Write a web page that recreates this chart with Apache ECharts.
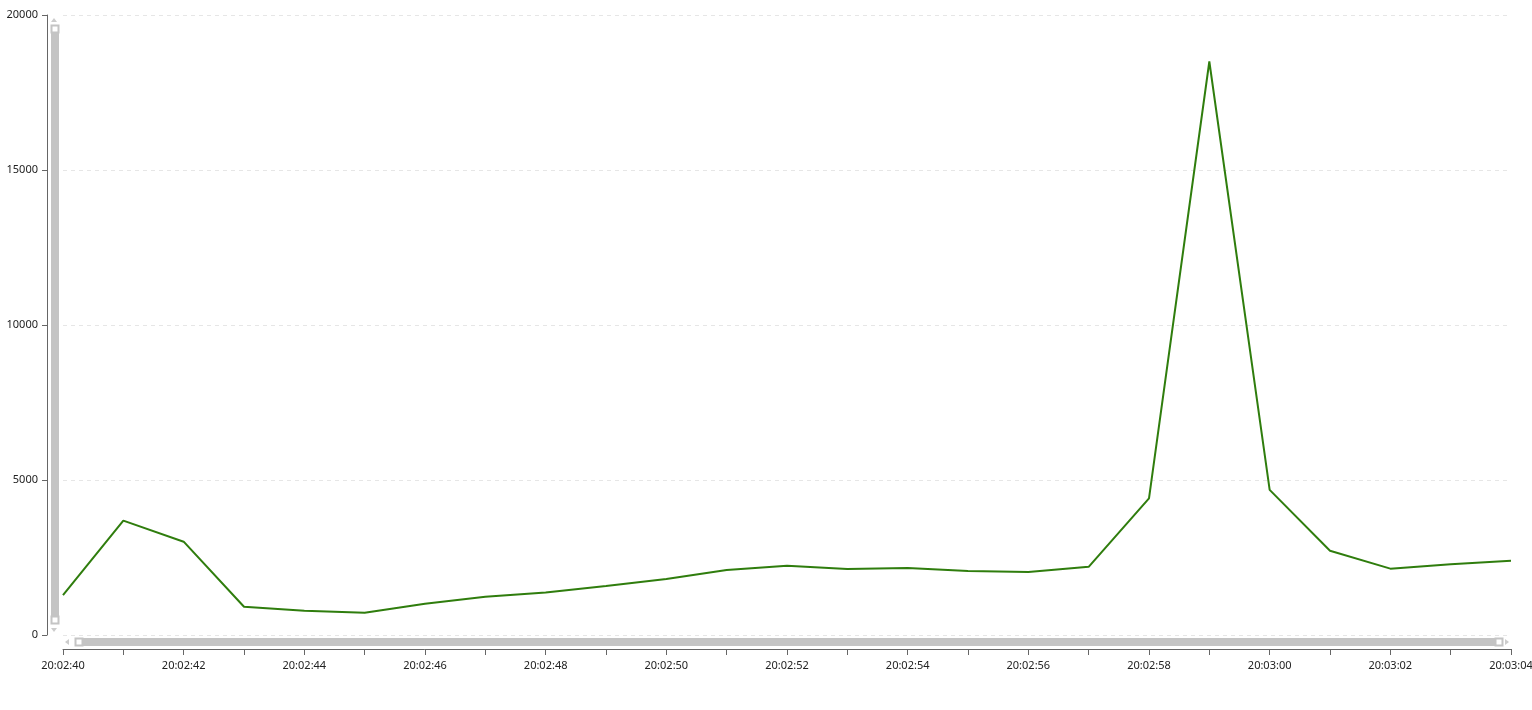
<!DOCTYPE html>
<html>
<head>
<meta charset="utf-8">
<script src="https://cdn.jsdelivr.net/npm/echarts@6/dist/echarts.min.js"></script>
<style>
html,body{margin:0;padding:0;background:#fff;}
#chart{width:1532px;height:710px;}
</style>
</head>
<body>
<div id="chart"></div>
<script>
var categories = ['20:02:40','20:02:41','20:02:42','20:02:43','20:02:44','20:02:45','20:02:46','20:02:47','20:02:48','20:02:49','20:02:50','20:02:51','20:02:52','20:02:53','20:02:54','20:02:55','20:02:56','20:02:57','20:02:58','20:02:59','20:03:00','20:03:01','20:03:02','20:03:03','20:03:04'];
var values = [1290, 3690, 3010, 910, 785, 720, 1010, 1235, 1370, 1580, 1806, 2097, 2235, 2130, 2160, 2065, 2032, 2200, 4410, 18500, 4680, 2720, 2140, 2280, 2397];
var yTicks = [0, 5000, 10000, 15000, 20000];

var chart = echarts.init(document.getElementById('chart'), null, {renderer:'canvas'});
var font = '"Noto Sans", "DejaVu Sans", sans-serif';
var barColor = '#c4c4c4';
var arrowColor = '#cccccc';
chart.setOption({
  animation: false,
  backgroundColor: '#fff',
  grid: {left: 63, right: 21, top: 15, bottom: 75, containLabel: false, outerBoundsMode: 'none'},
  xAxis: {
    type: 'category',
    data: categories,
    boundaryGap: false,
    offset: 14,
    axisLine: {show: true, onZero: false, lineStyle: {color: '#666', width: 1}},
    axisTick: {show: true, length: 6, interval: 0, lineStyle: {color: '#666'}},
    axisLabel: {interval: 1, color: '#222', fontSize: 11, fontFamily: font, margin: 11},
    splitLine: {show: false}
  },
  yAxis: {
    type: 'value',
    min: yTicks[0],
    max: yTicks[yTicks.length - 1],
    interval: yTicks[1] - yTicks[0],
    offset: 16,
    axisLine: {show: true, onZero: false, lineStyle: {color: '#666', width: 1}},
    axisTick: {show: true, length: 5, lineStyle: {color: '#666'}},
    axisLabel: {color: '#222', fontSize: 11, fontFamily: font, margin: 9,
      formatter: function (v) { return String(v); }},
    splitLine: {show: true, lineStyle: {color: '#e6e6e6', type: [4, 4], width: 1}}
  },
  dataZoom: [
    {
      type: 'slider', xAxisIndex: 0, start: 0, end: 100,
      left: 76, right: 34, top: 638, height: 8,
      backgroundColor: 'transparent', borderColor: 'transparent', borderRadius: 0,
      fillerColor: barColor,
      showDetail: false, showDataShadow: false, brushSelect: false,
      dataBackground: {lineStyle: {opacity: 0}, areaStyle: {opacity: 0}},
      selectedDataBackground: {lineStyle: {opacity: 0}, areaStyle: {opacity: 0}},
      handleIcon: 'rect', handleSize: 7,
      handleStyle: {color: '#fff', borderColor: barColor, borderWidth: 2},
      emphasis: {handleStyle: {color: '#fff', borderColor: barColor, borderWidth: 2}},
      moveHandleSize: 0
    },
    {
      type: 'slider', yAxisIndex: 0, start: 0, end: 100, orient: 'vertical',
      left: 50, width: 8, top: 28, bottom: 89,
      backgroundColor: 'transparent', borderColor: 'transparent', borderRadius: 0,
      fillerColor: barColor,
      showDetail: false, showDataShadow: false, brushSelect: false,
      dataBackground: {lineStyle: {opacity: 0}, areaStyle: {opacity: 0}},
      selectedDataBackground: {lineStyle: {opacity: 0}, areaStyle: {opacity: 0}},
      handleIcon: 'rect', handleSize: 7,
      handleStyle: {color: '#fff', borderColor: barColor, borderWidth: 2},
      emphasis: {handleStyle: {color: '#fff', borderColor: barColor, borderWidth: 2}},
      moveHandleSize: 0
    }
  ],
  graphic: [
    {type: 'polygon', shape: {points: [[51, 22], [57, 22], [54, 18]]}, style: {fill: arrowColor}, silent: true},
    {type: 'polygon', shape: {points: [[51, 628], [57, 628], [54, 632]]}, style: {fill: arrowColor}, silent: true},
    {type: 'polygon', shape: {points: [[69, 639], [69, 645], [65, 642]]}, style: {fill: arrowColor}, silent: true},
    {type: 'polygon', shape: {points: [[1505, 639], [1505, 645], [1509, 642]]}, style: {fill: arrowColor}, silent: true}
  ],
  series: [{
    type: 'line',
    data: values,
    showSymbol: false,
    symbol: 'none',
    lineStyle: {color: '#2f7d0d', width: 2},
    itemStyle: {color: '#2f7d0d'}
  }]
});
</script>
</body>
</html>
